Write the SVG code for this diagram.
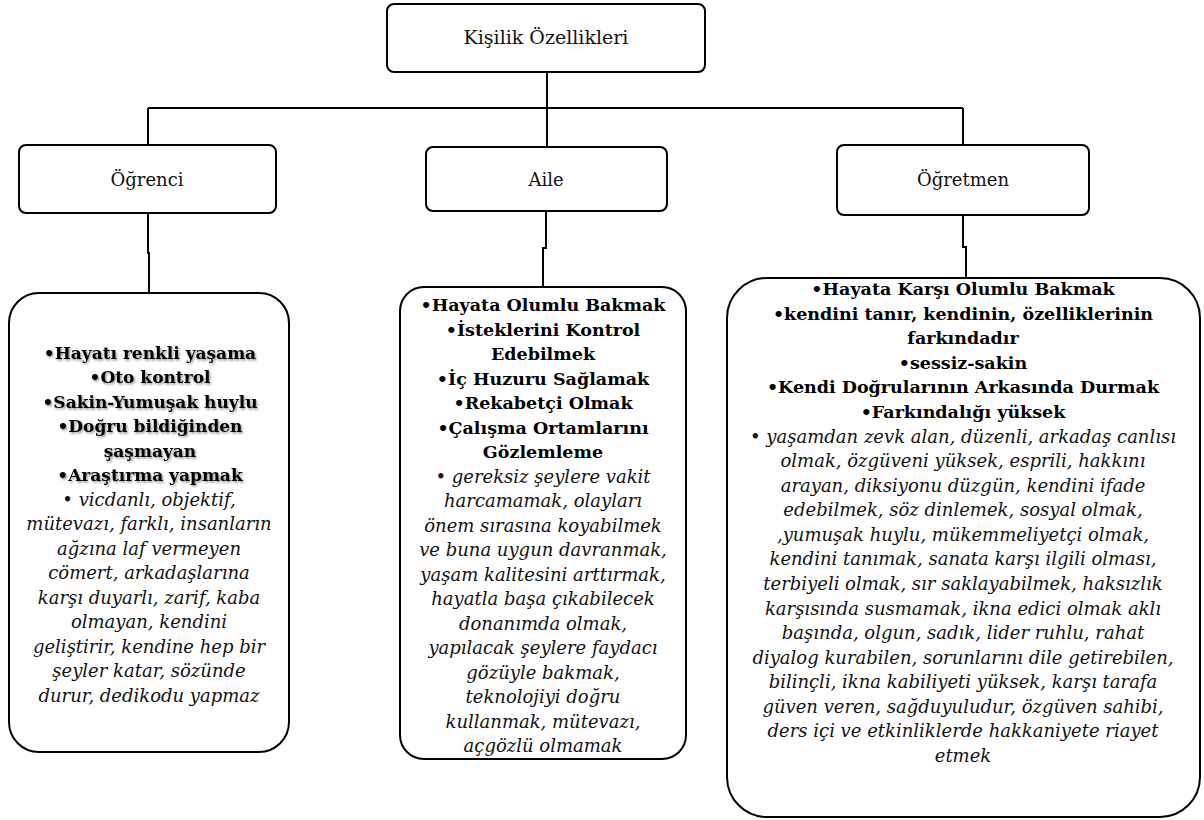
<svg xmlns="http://www.w3.org/2000/svg" width="1204" height="820" viewBox="0 0 1204 820">
<defs>
<style>
.box{fill:#fff;stroke:#000;stroke-width:2}
.lbl{font-family:"DejaVu Serif","Liberation Serif",serif;font-size:18px;fill:#111;text-anchor:middle}
.b{font-family:"DejaVu Serif","Liberation Serif",serif;font-size:17.5px;font-weight:bold;fill:#000;text-anchor:middle}
.b1{font-size:17px}
.i{font-family:"DejaVu Serif","Liberation Serif",serif;font-size:18px;font-style:italic;fill:#111;text-anchor:middle}
.con{fill:none;stroke:#000;stroke-width:2}
</style>
<filter id="sh" x="-5%" y="-20%" width="110%" height="150%">
<feDropShadow dx="1.2" dy="1.5" stdDeviation="0.8" flood-color="#000" flood-opacity="0.45"/>
</filter>
</defs>
<rect width="1204" height="820" fill="#fff"/>
<g id="connectors">
<path class="con" d="M547 72 V147"/>
<path class="con" d="M148 108 H963"/>
<path class="con" d="M148 108 V145"/>
<path class="con" d="M963 108 V145"/>
<path class="con" d="M148 213 V253 H149 V293"/>
<path class="con" d="M546 211 V248 H543 V287"/>
<path class="con" d="M963 215 V247 H966 V278"/>
</g>
<g id="root">
<rect class="box" x="387" y="4" width="318" height="68" rx="7"/>
<text class="lbl" x="546" y="44" style="font-size:19px">Kişilik Özellikleri</text>
</g>
<g id="ogrenci">
<rect class="box" x="19" y="145" width="257" height="68" rx="7"/>
<text class="lbl" x="147" y="186">Öğrenci</text>
</g>
<g id="aile">
<rect class="box" x="426" y="147" width="241" height="64" rx="7"/>
<text class="lbl" x="546" y="186">Aile</text>
</g>
<g id="ogretmen">
<rect class="box" x="837" y="145" width="252" height="70" rx="7"/>
<text class="lbl" x="963" y="186">Öğretmen</text>
</g>
<g id="ogrenci-detay">
<rect class="box" x="9" y="293" width="280" height="459" rx="30"/>
<g filter="url(#sh)">
<text class="b b1" x="150" y="358.5">•Hayatı renkli yaşama</text>
<text class="b b1" x="150" y="383">•Oto kontrol</text>
<text class="b b1" x="150" y="407.5">•Sakin-Yumuşak huylu</text>
<text class="b b1" x="150" y="432">•Doğru bildiğinden</text>
<text class="b b1" x="150" y="456.5">şaşmayan</text>
<text class="b b1" x="150" y="481">•Araştırma yapmak</text>
</g>
<text class="i" x="149" y="505.5">• vicdanlı, objektif,</text>
<text class="i" x="149" y="530">mütevazı, farklı, insanların</text>
<text class="i" x="149" y="554.5">ağzına laf vermeyen</text>
<text class="i" x="149" y="579">cömert, arkadaşlarına</text>
<text class="i" x="149" y="603.5">karşı duyarlı, zarif, kaba</text>
<text class="i" x="149" y="628">olmayan, kendini</text>
<text class="i" x="149" y="652.5">geliştirir, kendine hep bir</text>
<text class="i" x="149" y="677">şeyler katar, sözünde</text>
<text class="i" x="149" y="701.5">durur, dedikodu yapmaz</text>
</g>
<g id="aile-detay">
<rect class="box" x="400" y="287" width="286" height="472" rx="24"/>
<text class="b" x="543" y="311">•Hayata Olumlu Bakmak</text>
<text class="b" x="543" y="335.5">•İsteklerini Kontrol</text>
<text class="b" x="543" y="360">Edebilmek</text>
<text class="b" x="543" y="384.5">•İç Huzuru Sağlamak</text>
<text class="b" x="543" y="409">•Rekabetçi Olmak</text>
<text class="b" x="543" y="433.5">•Çalışma Ortamlarını</text>
<text class="b" x="543" y="458">Gözlemleme</text>
<text class="i" x="543" y="482.5">• gereksiz şeylere vakit</text>
<text class="i" x="543" y="507">harcamamak, olayları</text>
<text class="i" x="543" y="531.5">önem sırasına koyabilmek</text>
<text class="i" x="543" y="556">ve buna uygun davranmak,</text>
<text class="i" x="543" y="580.5">yaşam kalitesini arttırmak,</text>
<text class="i" x="543" y="605">hayatla başa çıkabilecek</text>
<text class="i" x="543" y="629.5">donanımda olmak,</text>
<text class="i" x="543" y="654">yapılacak şeylere faydacı</text>
<text class="i" x="543" y="678.5">gözüyle bakmak,</text>
<text class="i" x="543" y="703">teknolojiyi doğru</text>
<text class="i" x="543" y="727.5">kullanmak, mütevazı,</text>
<text class="i" x="543" y="752">açgözlü olmamak</text>
</g>
<g id="ogretmen-detay">
<rect class="box" x="727" y="278" width="473" height="539" rx="40"/>
<text class="b" x="963" y="295">•Hayata Karşı Olumlu Bakmak</text>
<text class="b" x="963" y="319.6">•kendini tanır, kendinin, özelliklerinin</text>
<text class="b" x="963" y="344.2">farkındadır</text>
<text class="b" x="963" y="368.7">•sessiz-sakin</text>
<text class="b" x="963" y="393.3">•Kendi Doğrularının Arkasında Durmak</text>
<text class="b" x="963" y="417.9">•Farkındalığı yüksek</text>
<text class="i" x="963" y="442.5">• yaşamdan zevk alan, düzenli, arkadaş canlısı</text>
<text class="i" x="963" y="467.1">olmak, özgüveni yüksek, esprili, hakkını</text>
<text class="i" x="963" y="491.6">arayan, diksiyonu düzgün, kendini ifade</text>
<text class="i" x="963" y="516.2">edebilmek, söz dinlemek, sosyal olmak,</text>
<text class="i" x="963" y="540.8">,yumuşak huylu, mükemmeliyetçi olmak,</text>
<text class="i" x="963" y="565.4">kendini tanımak, sanata karşı ilgili olması,</text>
<text class="i" x="963" y="590">terbiyeli olmak, sır saklayabilmek, haksızlık</text>
<text class="i" x="963" y="614.5">karşısında susmamak, ikna edici olmak aklı</text>
<text class="i" x="963" y="639.1">başında, olgun, sadık, lider ruhlu, rahat</text>
<text class="i" x="963" y="663.7">diyalog kurabilen, sorunlarını dile getirebilen,</text>
<text class="i" x="963" y="688.3">bilinçli, ikna kabiliyeti yüksek, karşı tarafa</text>
<text class="i" x="963" y="712.9">güven veren, sağduyuludur, özgüven sahibi,</text>
<text class="i" x="963" y="737.4">ders içi ve etkinliklerde hakkaniyete riayet</text>
<text class="i" x="963" y="762">etmek</text>
</g>
</svg>
